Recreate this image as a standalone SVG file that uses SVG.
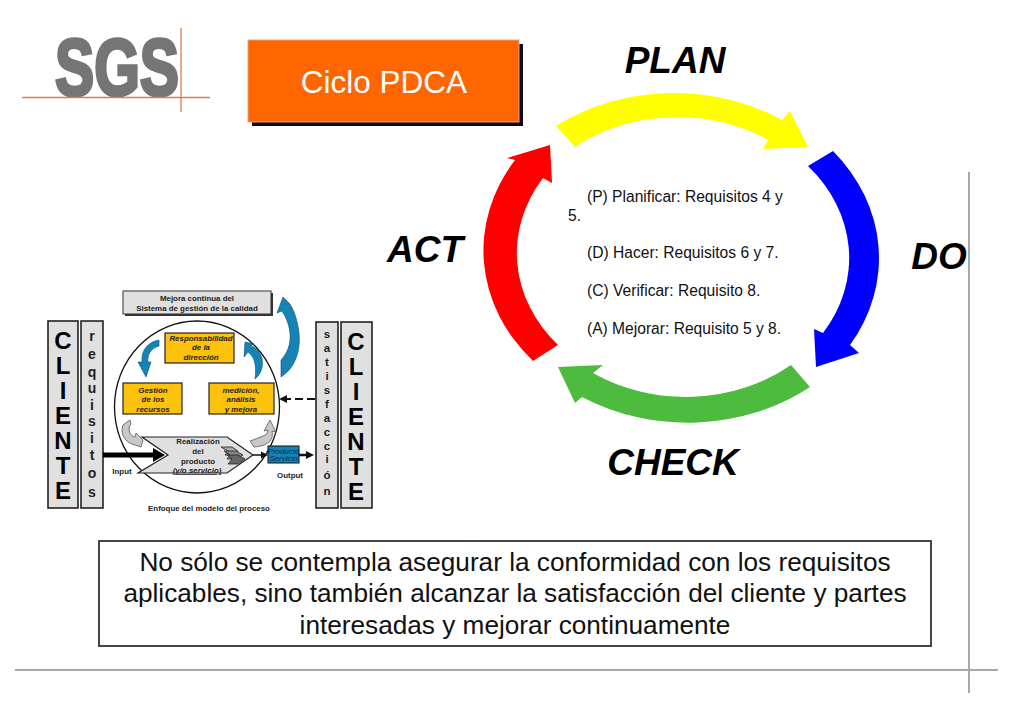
<svg xmlns="http://www.w3.org/2000/svg" width="1024" height="709" viewBox="0 0 1024 709">
<defs>
<style>
text{font-family:"Liberation Sans",Arial,sans-serif;fill:#000}
.big{font-size:37px;font-weight:bold;font-style:italic;text-anchor:middle}
.body{font-size:15.6px;fill:#111}
.note{font-size:26.2px;text-anchor:middle;fill:#111}
.tiny{font-size:7.9px;font-weight:bold;text-anchor:middle;fill:#222}
.tinyi{font-size:7.9px;font-weight:bold;font-style:italic;text-anchor:middle;fill:#222}
.col{fill:#e0e0e0;stroke:#222;stroke-width:1.6}
.colL{font-size:24px;font-weight:bold;text-anchor:middle}
.colS{font-size:14px;font-weight:bold;text-anchor:middle;fill:#222}
.colT{font-size:11.5px;font-weight:bold;text-anchor:middle;fill:#222}
.yb{fill:#fcc20c;stroke:#222;stroke-width:1.2}
.blue{fill:#1583b5;stroke:#0c4d6b;stroke-width:.6}
.grey{fill:#c8c8c8;stroke:#444;stroke-width:.7}
.rule{stroke:#a8a8a8;stroke-width:2;fill:none}
.org{stroke:#e07a4a;stroke-width:1.3;fill:none}
</style>
</defs>
<g id="frame">
<path class="rule" d="M969 172V693M15 670H998"/>
</g>
<g id="logo">
<text x="55" y="95" font-size="80" font-weight="bold" textLength="124" lengthAdjust="spacingAndGlyphs" style="fill:#757575;stroke:#757575;stroke-width:3.5">SGS</text>
<path class="org" d="M22 97.500H210M181 28V112"/>
</g>
<g id="title">
<rect x="252" y="44" width="271" height="82" fill="#0a0a20"/>
<rect x="248" y="40" width="271" height="82" fill="#ff6600" stroke="#e8a080" stroke-width="1"/>
<text x="384" y="93" font-size="31.500" text-anchor="middle" style="fill:#fff">Ciclo PDCA</text>
</g>
<g id="plan">
<path fill="#ffff00" d="M556 126A198 167 0 0 1 782 120L790 111L808 147L763 149L768 140A165 139 0 0 0 575 147Z"/>
<text class="big" x="675" y="73">PLAN</text>
</g>
<g id="do">
<path fill="#0000ff" d="M833 151A198 167 0 0 1 850 345L859 353L816 367L814 329L823 333A165 139 0 0 0 808 166Z"/>
<text class="big" x="939" y="269">DO</text>
</g>
<g id="check">
<path fill="#4cbb3e" d="M810 387A198 167 0 0 1 582 397L575 403L558 367L603 365L593 373A165 139 0 0 0 791 365Z"/>
<text class="big" x="673" y="475">CHECK</text>
</g>
<g id="act">
<path fill="#ff0000" d="M533 361A198 167 0 0 1 515 160L507 158L550 145L552 183L543 178A165 139 0 0 0 558 345Z"/>
<text class="big" x="425" y="262">ACT</text>
</g>
<g id="pdca-text">
<text class="body" x="587" y="202">(P) Planificar: Requisitos 4 y</text>
<text class="body" x="568" y="221">5.</text>
<text class="body" x="587" y="258">(D) Hacer: Requisitos 6 y 7.</text>
<text class="body" x="587" y="296">(C) Verificar: Requisito 8.</text>
<text class="body" x="587" y="334">(A) Mejorar: Requisito 5 y 8.</text>
</g>
<g id="note">
<rect x="99" y="541" width="832" height="105" fill="#fff" stroke="#333" stroke-width="1.8"/>
<text class="note" x="515" y="571">No sólo se contempla asegurar la conformidad con los requisitos</text>
<text class="note" x="515" y="602">aplicables, sino también alcanzar la satisfacción del cliente y partes</text>
<text class="note" x="515" y="634">interesadas y mejorar continuamente</text>
</g>
<g id="process-circle">
<ellipse cx="197" cy="407" rx="82.500" ry="86" fill="#fff" stroke="#111" stroke-width="1.3"/>
</g>
<g id="mejora">
<rect x="125" y="293" width="148" height="23" fill="#333"/>
<rect x="123" y="291" width="148" height="23" fill="#e0e0e0" stroke="#333" stroke-width="1"/>
<text class="tiny" x="197" y="301">Mejora continua del</text>
<text class="tiny" x="197" y="311">Sistema de gestión de la calidad</text>
</g>
<g id="cliente-left">
<rect class="col" x="48" y="321" width="30" height="187"/>
<text class="colL" x="63" y="349">C</text><text class="colL" x="63" y="374">L</text><text class="colL" x="63" y="399">I</text><text class="colL" x="63" y="424">E</text><text class="colL" x="63" y="449">N</text><text class="colL" x="63" y="474">T</text><text class="colL" x="63" y="499">E</text>
</g>
<g id="requisitos">
<rect class="col" x="81" y="321" width="22" height="187"/>
<text class="colS" x="92" y="341">r</text><text class="colS" x="92" y="359">e</text><text class="colS" x="92" y="377">q</text><text class="colS" x="92" y="393">u</text><text class="colS" x="92" y="410">i</text><text class="colS" x="92" y="426">s</text><text class="colS" x="92" y="443">i</text><text class="colS" x="92" y="460">t</text><text class="colS" x="92" y="478">o</text><text class="colS" x="92" y="497">s</text>
</g>
<g id="satisfaccion">
<rect class="col" x="316" y="322" width="22" height="186"/>
<text class="colT" x="327" y="338">s</text><text class="colT" x="327" y="352">a</text><text class="colT" x="327" y="366">t</text><text class="colT" x="327" y="380">i</text><text class="colT" x="327" y="394">s</text><text class="colT" x="327" y="408">f</text><text class="colT" x="327" y="422">a</text><text class="colT" x="327" y="436">c</text><text class="colT" x="327" y="450">c</text><text class="colT" x="327" y="463">i</text><text class="colT" x="327" y="479">ó</text><text class="colT" x="327" y="495">n</text>
</g>
<g id="cliente-right">
<rect class="col" x="341" y="322" width="31" height="186"/>
<text class="colL" x="356" y="350">C</text><text class="colL" x="356" y="375">L</text><text class="colL" x="356" y="400">I</text><text class="colL" x="356" y="425">E</text><text class="colL" x="356" y="450">N</text><text class="colL" x="356" y="475">T</text><text class="colL" x="356" y="500">E</text>
</g>
<g id="responsabilidad">
<rect class="yb" x="165" y="333" width="69" height="30"/>
<text class="tinyi" x="201" y="341">Responsabilidad</text><text class="tinyi" x="201" y="350">de la</text><text class="tinyi" x="201" y="360">dirección</text>
</g>
<g id="gestion">
<rect class="yb" x="123" y="383" width="59" height="31"/>
<text class="tinyi" x="153" y="393">Gestión</text><text class="tinyi" x="153" y="402">de los</text><text class="tinyi" x="153" y="412">recursos</text>
</g>
<g id="medicion">
<rect class="yb" x="209" y="383" width="65" height="31"/>
<text class="tinyi" x="241" y="393">medición,</text><text class="tinyi" x="241" y="402">análisis</text><text class="tinyi" x="241" y="412">y mejora</text>
</g>
<g id="realizacion">
<path d="M142 437H227L253 455L227 473H138L168 455Z" fill="#e0e0e0" stroke="#222" stroke-width="1.200"/>
<text class="tiny" x="198" y="444">Realización</text><text class="tiny" x="198" y="454">del</text><text class="tiny" x="198" y="464">producto</text><text class="tinyi" x="197" y="473" text-decoration="underline">(y/o servicio)</text>
<path d="M221 447H232L238 451L232 455H225L228 451Z" fill="#aaa" stroke="#222" stroke-width=".8"/>
<path d="M224 451H236L243 455L236 459H227L230 455Z" fill="#888" stroke="#222" stroke-width=".8"/>
<path d="M227 455H238L245 459L238 464H228L232 459Z" fill="#666" stroke="#222" stroke-width=".8"/>
</g>
<g id="producto">
<rect x="268" y="446" width="31" height="17" fill="#1583b5" stroke="#111" stroke-width="1"/>
<text class="tinyi" x="283.500" y="454" style="font-weight:normal;fill:#0a2a45">Producto</text>
<text class="tinyi" x="283.500" y="461" style="font-weight:normal;fill:#0a2a45">Servicio</text>
</g>
<g id="labels">
<text class="tiny" x="122" y="474">Input</text>
<text class="tiny" x="290" y="478">Output</text>
<text class="tiny" x="209" y="511">Enfoque del modelo del proceso</text>
</g>
<g id="connectors">
<path d="M103 452.500H153V448L165 455L153 462V457.500H103Z" fill="#000"/>
<path d="M253 455H261" stroke="#111" stroke-width="1.500"/><path d="M261 451.500L268 455L261 458.500Z" fill="#111"/>
<path d="M299 455H307" stroke="#111" stroke-width="2.500"/><path d="M306 451L314 455L306 459Z" fill="#111"/>
<path d="M315 399H286" stroke="#111" stroke-width="2" stroke-dasharray="8 4"/><path d="M287 395V403L279 399Z" fill="#111"/>
<path class="blue" d="M283 297L277 313L282 311C291 325 295 345 281 360V377C300 365 302 340 297 322C295 312 290 303 288 302Z"/>
<path class="blue" d="M159 340C148 342 141 350 142 362L138 362L146 377L151 362L148 362C147 355 151 348 159 346Z"/>
<path class="blue" d="M245 342L244 357L248 352C254 356 257 365 255 379C263 373 265 360 259 352C256 348 253 346 250 346L254 344Z"/>
<path class="grey" d="M130 420L123 425C120 433 124 441 132 444L141 447L143 440L136 433L135 437C130 436 127 429 131 424Z"/>
<path class="grey" d="M270 420L264 431L268 430C268 436 260 437 250 441L254 447C268 446 274 440 272 431L276 432Z"/>
</g>
</svg>
